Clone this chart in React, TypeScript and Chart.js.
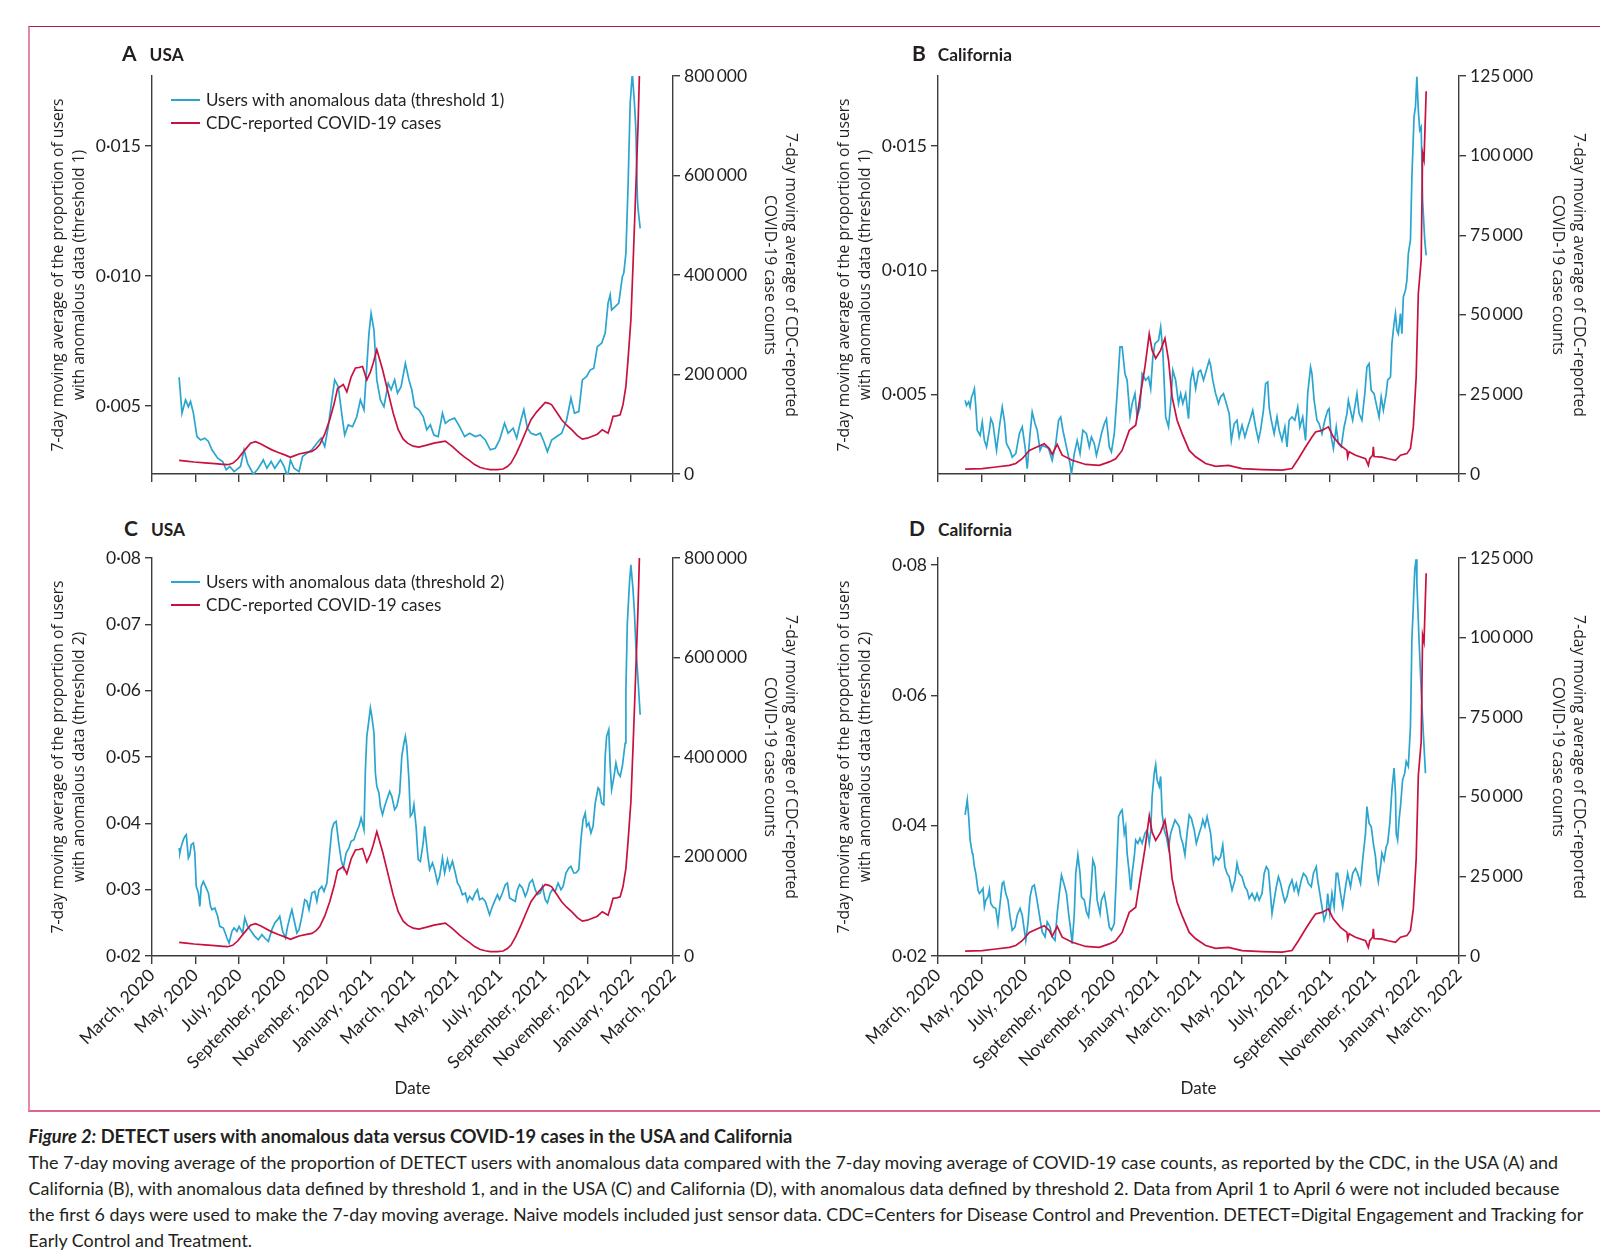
import React, { useEffect, useRef } from "react";
import { Chart, registerables } from "chart.js";

Chart.register(...registerables);

// Day offsets are counted from 1 March 2020 (day 0).
const MONTH_TICK_DAYS = [0, 61, 122, 184, 245, 306, 365, 426, 487, 549, 610, 671, 730];
const MONTH_TICK_LABELS = [
  "March, 2020", "May, 2020", "July, 2020", "September, 2020", "November, 2020",
  "January, 2021", "March, 2021", "May, 2021", "July, 2021", "September, 2021",
  "November, 2021", "January, 2022", "March, 2022",
];

// [day, proportion] — users with anomalous data, USA, threshold 1
const usaThreshold1 = [
  [38,0.0061],[42,0.00472],[47,0.00523],[51,0.00497],[54,0.00517],[58,0.00472],[63,0.00382],[68,0.00369],
  [74,0.00376],[79,0.00363],[84,0.00331],[92,0.00299],[99,0.00286],[104,0.00254],[109,0.00267],[115,0.00247],
  [124,0.00267],[129,0.00331],[134,0.00279],[142,0.00237],[149,0.0026],[156,0.00292],[161,0.0026],[167,0.00286],
  [172,0.0026],[180,0.00292],[185,0.00267],[190,0.00228],[194,0.00292],[199,0.0026],[206,0.00247],[211,0.00305],
  [217,0.00318],[224,0.00331],[231,0.00356],[237,0.00376],[242,0.00344],[247,0.0042],[252,0.00523],[256,0.006],
  [261,0.00574],[267,0.00446],[270,0.00388],[275,0.00427],[281,0.0042],[287,0.00459],[292,0.00523],[297,0.00485],
  [301,0.00651],[304,0.0078],[307,0.00856],[311,0.00792],[315,0.006],[320,0.00523],[325,0.00497],[331,0.00587],
  [335,0.00562],[340,0.006],[344,0.00549],[349,0.00574],[355,0.00664],[360,0.006],[364,0.00562],[368,0.00497],
  [374,0.00485],[380,0.00459],[385,0.00408],[390,0.00427],[395,0.00388],[401,0.00382],[407,0.00472],[411,0.00433],
  [417,0.00446],[424,0.00453],[431,0.0042],[438,0.00382],[445,0.00395],[453,0.00382],[460,0.00388],[467,0.00369],
  [474,0.00331],[481,0.00337],[487,0.00369],[494,0.00433],[499,0.00395],[506,0.00414],[511,0.00376],[517,0.00446],
  [521,0.00485],[526,0.00414],[531,0.00395],[538,0.00388],[544,0.00395],[549,0.00363],[554,0.00324],[560,0.00369],
  [567,0.00382],[574,0.00395],[581,0.00446],[587,0.0053],[592,0.00472],[598,0.00478],[603,0.006],[609,0.00613],
  [614,0.00638],[619,0.00645],[624,0.00728],[630,0.00741],[635,0.0078],[639,0.00895],[642,0.00927],[644,0.00869],
  [649,0.00882],[654,0.00895],[659,0.00997],[661,0.0101],[664,0.01087],[667,0.01344],[670,0.01664],[673,0.01779],
  [676,0.01664],[678,0.01562],[680,0.01305],[681,0.0126],[684,0.01183],
];

// [day, proportion] — users with anomalous data, California, threshold 1
const californiaThreshold1 = [
  [38,0.00477],[40,0.00457],[43,0.00471],[45,0.0045],[47,0.00491],[49,0.00504],[51,0.00524],[53,0.0045],
  [55,0.00357],[59,0.00336],[62,0.0039],[65,0.00316],[68,0.0029],[72,0.00357],[74,0.00403],[77,0.00383],
  [82,0.00276],[86,0.0037],[90,0.0045],[93,0.00397],[96,0.00303],[101,0.00276],[104,0.00249],[109,0.00263],
  [114,0.00343],[118,0.0037],[122,0.0029],[125,0.00202],[129,0.00343],[132,0.0043],[136,0.00383],[139,0.00357],
  [143,0.00276],[146,0.00296],[151,0.0029],[155,0.00283],[160,0.00236],[165,0.00303],[169,0.00397],[172,0.0041],
  [175,0.00357],[178,0.00316],[181,0.00276],[185,0.00223],[187,0.00182],[191,0.00263],[195,0.00316],[199,0.00263],
  [203,0.00357],[208,0.00343],[212,0.0029],[215,0.0033],[219,0.00303],[222,0.00256],[226,0.00303],[229,0.00343],
  [233,0.00383],[236,0.00403],[240,0.0029],[243,0.0027],[247,0.00343],[251,0.00504],[255,0.00692],[258,0.00692],
  [262,0.00584],[265,0.00558],[269,0.0041],[272,0.00464],[276,0.00504],[279,0.0041],[283,0.0045],[286,0.00584],
  [291,0.00558],[295,0.00571],[298,0.00524],[301,0.00651],[304,0.00705],[309,0.00718],[312,0.00772],[315,0.00678],
  [319,0.0041],[323,0.0037],[326,0.00464],[329,0.00598],[333,0.00558],[337,0.00464],[340,0.00504],[343,0.00464],
  [347,0.00504],[351,0.00403],[354,0.00558],[357,0.00598],[361,0.00524],[365,0.00591],[368,0.00598],[372,0.00558],
  [376,0.00598],[380,0.00638],[382,0.00618],[385,0.00558],[389,0.00504],[393,0.00464],[396,0.00491],[400,0.00504],
  [404,0.00464],[408,0.00424],[411,0.00316],[415,0.00383],[419,0.00397],[422,0.0033],[426,0.00377],[430,0.0033],
  [434,0.0037],[437,0.00397],[441,0.00437],[445,0.0037],[449,0.00316],[452,0.00357],[456,0.00437],[459,0.00544],
  [462,0.00551],[464,0.0045],[467,0.00397],[471,0.00343],[475,0.0041],[478,0.00357],[482,0.00316],[486,0.0037],
  [489,0.0029],[492,0.00397],[496,0.0041],[500,0.00397],[504,0.0045],[507,0.0037],[511,0.0041],[515,0.00316],
  [518,0.00504],[522,0.00611],[524,0.00584],[527,0.00477],[531,0.00397],[534,0.00383],[538,0.00343],[542,0.00397],
  [546,0.00437],[548,0.00444],[551,0.0033],[554,0.00283],[558,0.0037],[561,0.00303],[565,0.0029],[569,0.0037],
  [573,0.00424],[575,0.00477],[578,0.00437],[581,0.00397],[584,0.0045],[587,0.00504],[590,0.00424],[594,0.00397],
  [598,0.00504],[601,0.00611],[604,0.00625],[607,0.00517],[611,0.00504],[615,0.0045],[618,0.0041],[621,0.00491],
  [624,0.00437],[628,0.00504],[630,0.00558],[634,0.00571],[636,0.00705],[639,0.00786],[641,0.00826],[643,0.00759],
  [645,0.00745],[648,0.00826],[650,0.00745],[652,0.00893],[655,0.0092],[657,0.0096],[659,0.01067],[662,0.01121],
  [664,0.01375],[667,0.01617],[669,0.01657],[671,0.01778],[673,0.01643],[675,0.01563],[677,0.01576],[679,0.01281],
  [682,0.01121],[684,0.0106],
];

// [day, proportion] — users with anomalous data, USA, threshold 2
const usaThreshold2 = [
  [38,0.03628],[39,0.03553],[41,0.03653],[44,0.03754],[46,0.03804],[48,0.03829],[51,0.03477],[53,0.03528],
  [55,0.03678],[58,0.03703],[60,0.03553],[62,0.0305],[65,0.0295],[67,0.02749],[69,0.0305],[72,0.03126],
  [75,0.0305],[79,0.0295],[82,0.02749],[84,0.02698],[88,0.02724],[92,0.02598],[95,0.02447],[100,0.02422],
  [105,0.02271],[108,0.02196],[112,0.02372],[115,0.02422],[119,0.02372],[122,0.02447],[127,0.02347],[130,0.02573],
  [134,0.02447],[139,0.02372],[144,0.02296],[149,0.02246],[154,0.02322],[158,0.02271],[163,0.02221],[168,0.02397],
  [172,0.02497],[176,0.02548],[179,0.02598],[183,0.02372],[187,0.02271],[190,0.02447],[194,0.02623],[196,0.02698],
  [200,0.02497],[203,0.02347],[206,0.02397],[210,0.02598],[214,0.02849],[217,0.02824],[220,0.02698],[224,0.0295],
  [228,0.02975],[231,0.02824],[234,0.03],[238,0.0305],[241,0.02975],[245,0.031],[248,0.03452],[252,0.03904],
  [255,0.04005],[258,0.0403],[261,0.03754],[265,0.03452],[268,0.03327],[272,0.03553],[276,0.03628],[279,0.03729],
  [283,0.03754],[286,0.03854],[290,0.03955],[293,0.0408],[297,0.03904],[299,0.04809],[301,0.05312],[304,0.05563],
  [306,0.05739],[308,0.05613],[311,0.05362],[313,0.04759],[315,0.04558],[318,0.04457],[320,0.04256],[323,0.04131],
  [326,0.04256],[329,0.04357],[333,0.04482],[336,0.04407],[340,0.04206],[343,0.04256],[347,0.04457],[350,0.0501],
  [353,0.05211],[355,0.05312],[357,0.05161],[360,0.04658],[362,0.04106],[365,0.04156],[367,0.04281],[370,0.03955],
  [373,0.03452],[376,0.03427],[380,0.03704],[382,0.03955],[386,0.03553],[389,0.03302],[393,0.03402],[396,0.03302],
  [400,0.031],[403,0.03201],[407,0.03477],[410,0.03251],[414,0.03452],[417,0.03302],[421,0.03427],[425,0.03251],
  [428,0.031],[431,0.0305],[435,0.02925],[439,0.0295],[442,0.02824],[445,0.02899],[449,0.02849],[453,0.0295],
  [456,0.03],[459,0.02849],[463,0.02874],[467,0.02824],[470,0.02724],[473,0.02623],[477,0.02749],[481,0.02849],
  [484,0.02925],[487,0.02849],[491,0.0295],[495,0.03075],[498,0.031],[501,0.02874],[505,0.02849],[509,0.02824],
  [512,0.03],[515,0.03075],[519,0.03025],[523,0.02899],[526,0.02975],[529,0.031],[533,0.03151],[537,0.03],
  [540,0.02925],[544,0.0295],[547,0.0305],[551,0.02849],[554,0.02799],[558,0.0295],[561,0.03],[565,0.02975],
  [569,0.031],[573,0.03],[576,0.0305],[580,0.03251],[584,0.03327],[587,0.03352],[591,0.03251],[594,0.03251],
  [598,0.03302],[601,0.03754],[604,0.04055],[607,0.04156],[609,0.03955],[612,0.04005],[615,0.03854],[618,0.03955],
  [621,0.04306],[625,0.04533],[627,0.04508],[630,0.04306],[633,0.04281],[635,0.0501],[637,0.05312],[640,0.05412],
  [642,0.04859],[644,0.04508],[647,0.04683],[650,0.04909],[653,0.04759],[656,0.04709],[659,0.04859],[663,0.05211],
  [664,0.0601],[666,0.07015],[669,0.07623],[671,0.07899],[674,0.07523],[676,0.07171],[678,0.06668],[681,0.06166],
  [684,0.05638],
];

// [day, proportion] — users with anomalous data, California, threshold 2
const californiaThreshold2 = [
  [38,0.04166],[41,0.04397],[43,0.0414],[45,0.03781],[48,0.03576],[49,0.0355],[51,0.0337],[53,0.03268],
  [56,0.03011],[58,0.0296],[60,0.02985],[63,0.03037],[65,0.02754],[67,0.02857],[70,0.02908],[72,0.03021],
  [74,0.02806],[77,0.02754],[81,0.02729],[84,0.02498],[87,0.02806],[90,0.03114],[92,0.03139],[95,0.0296],
  [98,0.02857],[101,0.026],[104,0.02395],[108,0.02446],[111,0.02626],[115,0.02729],[118,0.02626],[121,0.02395],
  [123,0.02241],[126,0.02498],[129,0.02908],[132,0.03062],[135,0.03088],[138,0.02908],[141,0.02703],[144,0.02498],
  [146,0.0237],[150,0.02293],[153,0.02523],[157,0.02446],[160,0.02293],[164,0.02241],[167,0.02652],[171,0.03062],
  [173,0.03242],[177,0.03088],[180,0.0296],[183,0.02652],[186,0.02395],[188,0.0219],[191,0.02652],[193,0.03268],
  [196,0.0355],[199,0.03268],[201,0.02908],[205,0.02857],[208,0.02677],[211,0.026],[214,0.0296],[217,0.03473],
  [220,0.0337],[223,0.02857],[227,0.02652],[229,0.02857],[233,0.0296],[236,0.02754],[240,0.02446],[243,0.02395],
  [247,0.02498],[250,0.03268],[253,0.0414],[256,0.04217],[258,0.04243],[261,0.03883],[263,0.03986],[265,0.03576],
  [268,0.03268],[270,0.03011],[272,0.03268],[275,0.03524],[277,0.03781],[280,0.03729],[283,0.03807],[286,0.03729],
  [290,0.03883],[293,0.03935],[296,0.03729],[298,0.03909],[300,0.04448],[303,0.04807],[305,0.04936],[307,0.04705],
  [310,0.04602],[312,0.04756],[314,0.04191],[317,0.03935],[320,0.03832],[323,0.03653],[326,0.03883],[329,0.03986],
  [332,0.04089],[335,0.04037],[338,0.03986],[340,0.03832],[343,0.03729],[346,0.0355],[349,0.03883],[352,0.04166],
  [355,0.04114],[359,0.03935],[362,0.03729],[366,0.03883],[369,0.03986],[371,0.04089],[374,0.03986],[377,0.0414],
  [380,0.03986],[382,0.03883],[386,0.03422],[389,0.03524],[393,0.03473],[396,0.03524],[399,0.03704],[402,0.0337],
  [405,0.03268],[408,0.03216],[412,0.03011],[416,0.03165],[419,0.03422],[422,0.03268],[426,0.03216],[430,0.03062],
  [433,0.03011],[436,0.02883],[440,0.0296],[444,0.02857],[447,0.0296],[450,0.02857],[454,0.0296],[457,0.03268],
  [460,0.0337],[463,0.03319],[465,0.03062],[468,0.02652],[471,0.02857],[474,0.03062],[477,0.03216],[480,0.03114],
  [483,0.0296],[486,0.02831],[489,0.02908],[492,0.03062],[496,0.03165],[499,0.03011],[502,0.03114],[505,0.0296],
  [509,0.03165],[512,0.03268],[516,0.03216],[519,0.03114],[523,0.03062],[526,0.03268],[530,0.0337],[532,0.03165],
  [535,0.0296],[538,0.02754],[541,0.02549],[544,0.02652],[546,0.0296],[549,0.02652],[552,0.0296],[555,0.02754],
  [558,0.03268],[560,0.03268],[564,0.0296],[567,0.02754],[571,0.03062],[574,0.03268],[578,0.03062],[581,0.03268],
  [585,0.03345],[588,0.03268],[592,0.03114],[595,0.03473],[599,0.03883],[601,0.04294],[604,0.04037],[607,0.03986],
  [610,0.03729],[613,0.03524],[615,0.03268],[617,0.03139],[620,0.0337],[622,0.03576],[625,0.03473],[628,0.03678],
  [630,0.03729],[633,0.04037],[636,0.04551],[639,0.04884],[641,0.04499],[642,0.03883],[644,0.03781],[646,0.04089],
  [648,0.04294],[651,0.04705],[654,0.04807],[656,0.04987],[659,0.0491],[662,0.05526],[664,0.0686],[666,0.07373],
  [668,0.07938],[670,0.08092],[671,0.07732],[674,0.0686],[677,0.0609],[680,0.05423],[683,0.04807],
];

// [day, cases] — CDC-reported COVID-19 cases, 7-day moving average, USA
const usaCases = [
  [38,27400],[48,26000],[59,24100],[74,22500],[88,20800],[100,19500],[106,18700],[113,21500],
  [120,30100],[130,48000],[138,62000],[145,64800],[152,61000],[159,55400],[168,48500],[177,43200],
  [186,38500],[194,33500],[200,37000],[206,40200],[215,43000],[224,45500],[230,51000],[235,59000],
  [242,80000],[249,109000],[255,140000],[260,172000],[268,180000],[273,165000],[279,195000],[285,213000],
  [290,214000],[295,216000],[301,189000],[306,205000],[310,223000],[315,250000],[323,210000],[331,163000],
  [338,122000],[345,89000],[352,70000],[358,62000],[366,56000],[374,54000],[385,58000],[395,62000],
  [403,64000],[411,66000],[421,55000],[431,42000],[438,34000],[445,27000],[452,19000],[460,13000],
  [467,10500],[474,8700],[484,8900],[492,10000],[498,15000],[503,22000],[510,40000],[517,62000],
  [524,86000],[531,109000],[539,125000],[546,136000],[551,144000],[556,142000],[560,139000],[567,124000],
  [574,109000],[581,98000],[588,89000],[596,77000],[603,70000],[610,72000],[617,76000],[624,80000],
  [631,89000],[639,82000],[643,100000],[646,116000],[651,117000],[656,119000],[660,140000],[664,176000],
  [667,230000],[671,310000],[674,420000],[678,578000],[681,700000],[683,805000],
];

// [day, cases] — CDC-reported COVID-19 cases, 7-day moving average, California
const californiaCases = [
  [38,1500],[62,1700],[81,2200],[100,2700],[109,3300],[118,4800],[128,7400],[137,8300],
  [149,9500],[156,8000],[160,6200],[167,9300],[174,5900],[188,4300],[207,3000],[226,2700],
  [240,3800],[249,4800],[258,7400],[268,13700],[277,15300],[284,25300],[290,33700],[296,44000],
  [300,38900],[305,36300],[312,38900],[318,42600],[323,35800],[328,24200],[335,16900],[342,12700],
  [352,7400],[361,5400],[375,3300],[389,2400],[407,2700],[426,1700],[454,1400],[482,1200],
  [496,1700],[505,4800],[515,8500],[524,11600],[529,13200],[538,13700],[547,14800],[554,11600],
  [564,9000],[573,7400],[574,5300],[576,7000],[585,5900],[599,4800],[603,2700],[605,4800],
  [609,5900],[610,8500],[611,5500],[622,5300],[631,4800],[641,4300],[648,5900],[657,6400],
  [662,8000],[666,14800],[670,30500],[673,56700],[677,67200],[679,100800],[681,98700],[684,120200],
];

const usaT1Ticks = [0.005, 0.01, 0.015];
const californiaT1Ticks = [0.005, 0.01, 0.015];
const usaT2Ticks = [0.02, 0.03, 0.04, 0.05, 0.06, 0.07, 0.08];
const californiaT2Ticks = [0.02, 0.04, 0.06, 0.08];
const usaCaseTicks = [0, 200000, 400000, 600000, 800000];
const californiaCaseTicks = [0, 25000, 50000, 75000, 100000, 125000];

const BLUE = "#2aa5cf";
const RED = "#c8113f";
const AXIS = "#3c3c3c";
const TEXT = "#231f20";
const NARROW = "Lato, 'Liberation Sans', sans-serif";
const WIDE = "'Open Sans', 'DejaVu Sans', sans-serif";

const fmtProp = (v: number, d: number) => v.toFixed(d).replace(".", "\u00b7");
const fmtCount = (v: number) =>
  String(Math.round(v)).replace(/\B(?=(\d{3})+(?!\d))/g, "\u2009");

type Spec = {
  left: number; top: number; height: number; xH: number; showX: boolean;
  blue: number[][]; red: number[][]; blueLabel: string;
  yMin: number; yMax: number; yTicks: number[]; yDec: number;
  y1Max: number; y1Ticks: number[];
};

const CANVAS_W = 720;
const LEFT_AXIS_W = 92;
const RIGHT_AXIS_W = 107;

function Panel({ s }: { s: Spec }) {
  const ref = useRef<HTMLCanvasElement | null>(null);
  useEffect(() => {
    if (!ref.current) return;
    const tickFont = { family: NARROW, size: 17.5 };
    const grid = { drawOnChartArea: false, drawTicks: true, tickLength: 7, color: AXIS, lineWidth: 1.4 };
    const border = { display: true, color: AXIS, width: 1.4 };
    const chart = new Chart(ref.current, {
      type: "line",
      data: {
        datasets: [
          {
            label: "CDC-reported COVID-19 cases",
            data: s.red.map(([d, v]) => ({ x: d, y: v })),
            yAxisID: "y1", borderColor: RED, borderWidth: 1.7, pointRadius: 0, tension: 0,
          },
          {
            label: s.blueLabel,
            data: s.blue.map(([d, v]) => ({ x: d, y: v })),
            yAxisID: "y", borderColor: BLUE, borderWidth: 1.7, pointRadius: 0, tension: 0,
          },
        ],
      },
      options: {
        animation: false,
        responsive: false,
        devicePixelRatio: 1,
        layout: { padding: { top: 10, left: 0, right: 0, bottom: 0 } },
        plugins: { legend: { display: false }, tooltip: { enabled: false } },
        scales: {
          x: {
            type: "linear", min: 0, max: 730,
            afterBuildTicks: (sc: any) => { sc.ticks = MONTH_TICK_DAYS.map((v) => ({ value: v })); },
            afterFit: (sc: any) => { sc.height = s.xH; sc.paddingLeft = 0; sc.paddingRight = 0; },
            ticks: {
              display: s.showX, autoSkip: false, minRotation: 45, maxRotation: 45,
              font: tickFont, color: TEXT, padding: 1,
              callback: (v: any) => MONTH_TICK_LABELS[MONTH_TICK_DAYS.indexOf(Number(v))] ?? "",
            },
            grid: { ...grid, tickLength: 8 }, border,
          },
          y: {
            type: "linear", position: "left", min: s.yMin, max: s.yMax,
            afterBuildTicks: (sc: any) => { sc.ticks = s.yTicks.map((v) => ({ value: v })); },
            afterFit: (sc: any) => { sc.width = LEFT_AXIS_W; sc.paddingTop = 0; sc.paddingBottom = 0; },
            ticks: { font: tickFont, color: TEXT, padding: 4, callback: (v: any) => fmtProp(Number(v), s.yDec) },
            grid, border,
          },
          y1: {
            type: "linear", position: "right", min: 0, max: s.y1Max,
            afterBuildTicks: (sc: any) => { sc.ticks = s.y1Ticks.map((v) => ({ value: v })); },
            afterFit: (sc: any) => { sc.width = RIGHT_AXIS_W; sc.paddingTop = 0; sc.paddingBottom = 0; },
            ticks: { font: tickFont, color: TEXT, padding: 4, callback: (v: any) => fmtCount(Number(v)) },
            grid, border,
          },
        },
      } as any,
    });
    return () => chart.destroy();
  }, [s]);
  return (
    <canvas
      ref={ref}
      width={CANVAS_W}
      height={s.height}
      style={{ position: "absolute", left: s.left, top: s.top, width: CANVAS_W, height: s.height }}
    />
  );
}

// plot areas: x 152–673 / 938–1459, y 76–474 / 558–956
const PANELS: Spec[] = [
  { left: 60, top: 66, height: 418, xH: 10, showX: false, blue: usaThreshold1, red: usaCases,
    blueLabel: "Users with anomalous data (threshold 1)", yMin: 0.00238, yMax: 0.01769, yTicks: usaT1Ticks, yDec: 3,
    y1Max: 800000, y1Ticks: usaCaseTicks },
  { left: 846, top: 66, height: 418, xH: 10, showX: false, blue: californiaThreshold1, red: californiaCases,
    blueLabel: "Users with anomalous data (threshold 1)", yMin: 0.00181, yMax: 0.01781, yTicks: californiaT1Ticks, yDec: 3,
    y1Max: 125000, y1Ticks: californiaCaseTicks },
  { left: 60, top: 548, height: 530, xH: 122, showX: true, blue: usaThreshold2, red: usaCases,
    blueLabel: "Users with anomalous data (threshold 2)", yMin: 0.02, yMax: 0.08, yTicks: usaT2Ticks, yDec: 2,
    y1Max: 800000, y1Ticks: usaCaseTicks },
  { left: 846, top: 548, height: 530, xH: 122, showX: true, blue: californiaThreshold2, red: californiaCases,
    blueLabel: "Users with anomalous data (threshold 2)", yMin: 0.02, yMax: 0.0811, yTicks: californiaT2Ticks, yDec: 2,
    y1Max: 125000, y1Ticks: californiaCaseTicks },
];

function Rot({ cx, cy, angle, lines }: { cx: number; cy: number; angle: number; lines: string[] }) {
  return (
    <div style={{
      position: "absolute", left: cx, top: cy, transform: `translate(-50%, -50%) rotate(${angle}deg)`,
      whiteSpace: "nowrap", textAlign: "center", fontFamily: WIDE, fontSize: 15.7, lineHeight: "21px", color: TEXT,
    }}>
      {lines.map((l, i) => <div key={i}>{l}</div>)}
    </div>
  );
}

function Title({ x, y, letter, name, gap }: { x: number; y: number; letter: string; name: string; gap: number }) {
  return (
    <div style={{ position: "absolute", left: x, top: y, whiteSpace: "nowrap", color: TEXT, fontFamily: NARROW, fontWeight: 700, lineHeight: "25px" }}>
      <span style={{ fontSize: 21 }}>{letter}</span>
      <span style={{ fontSize: 17.3, marginLeft: gap }}>{name}</span>
    </div>
  );
}

function Legend({ x, y, label }: { x: number; y: number; label: string }) {
  const row = (color: string, text: string, cy: number) => (
    <div style={{ position: "absolute", left: x, top: Math.round(cy) - 10, height: 20, display: "flex", alignItems: "center", whiteSpace: "nowrap" }}>
      <div style={{ width: 29, height: 2, background: color, marginRight: 6 }} />
      <span style={{ fontFamily: NARROW, fontSize: 17, color: TEXT, lineHeight: "20px" }}>{text}</span>
    </div>
  );
  return (
    <>
      {row(BLUE, label, y)}
      {row(RED, "CDC-reported COVID-19 cases", y + 22.5)}
    </>
  );
}

export default function App() {
  const leftT1 = ["7-day moving average of the proportion of users", "with anomalous data (threshold 1)"];
  const leftT2 = ["7-day moving average of the proportion of users", "with anomalous data (threshold 2)"];
  const right = ["7-day moving average of CDC-reported", "COVID-19 case counts"];
  const dateStyle: React.CSSProperties = {
    position: "absolute", top: 1087, transform: "translate(-50%, -50%)", fontFamily: NARROW, fontSize: 17, color: TEXT,
  };
  return (
    <div style={{ position: "absolute", left: 0, top: 0, width: 1600, height: 1259, background: "#fff", overflow: "hidden" }}>
      <div style={{
        position: "absolute", left: 28, top: 26, width: 1600, height: 1086, boxSizing: "border-box",
        borderLeft: "2px solid #e48aa8", borderBottom: "2px solid #e0658a", borderTop: "1.5px solid #a8204c",
      }} />
      {PANELS.map((p, i) => <Panel key={i} s={p} />)}
      <Title x={122} y={40} letter="A" name="USA" gap={13} />
      <Title x={912} y={40} letter="B" name="California" gap={12} />
      <Title x={124} y={515} letter="C" name="USA" gap={13} />
      <Title x={909} y={515} letter="D" name="California" gap={13} />
      <Legend x={171} y={100.2} label="Users with anomalous data (threshold 1)" />
      <Legend x={171} y={582.3} label="Users with anomalous data (threshold 2)" />
      <Rot cx={68} cy={275} angle={-90} lines={leftT1} />
      <Rot cx={854} cy={275} angle={-90} lines={leftT1} />
      <Rot cx={68} cy={757} angle={-90} lines={leftT2} />
      <Rot cx={854} cy={757} angle={-90} lines={leftT2} />
      <Rot cx={781} cy={275} angle={90} lines={right} />
      <Rot cx={1569} cy={275} angle={90} lines={right} />
      <Rot cx={781} cy={757} angle={90} lines={right} />
      <Rot cx={1569} cy={757} angle={90} lines={right} />
      <div style={{ ...dateStyle, left: 412.5 }}>Date</div>
      <div style={{ ...dateStyle, left: 1198.5 }}>Date</div>
      <div style={{ position: "absolute", left: 28.6, top: 1123, fontFamily: NARROW, color: TEXT, whiteSpace: "nowrap" }}>
        <div style={{ fontSize: 18.3, fontWeight: 700, lineHeight: "26px" }}>
          <i>Figure 2:</i> DETECT users with anomalous data versus COVID-19 cases in the USA and California
        </div>
        <div style={{ fontSize: 17.9, lineHeight: "26px" }}>
          <div>The 7-day moving average of the proportion of DETECT users with anomalous data compared with the 7-day moving average of COVID-19 case counts, as reported by the CDC, in the USA (A) and</div>
          <div>California (B), with anomalous data defined by threshold 1, and in the USA (C) and California (D), with anomalous data defined by threshold 2. Data from April 1 to April 6 were not included because</div>
          <div>the first 6 days were used to make the 7-day moving average. Naive models included just sensor data. CDC=Centers for Disease Control and Prevention. DETECT=Digital Engagement and Tracking for</div>
          <div>Early Control and Treatment.</div>
        </div>
      </div>
    </div>
  );
}
